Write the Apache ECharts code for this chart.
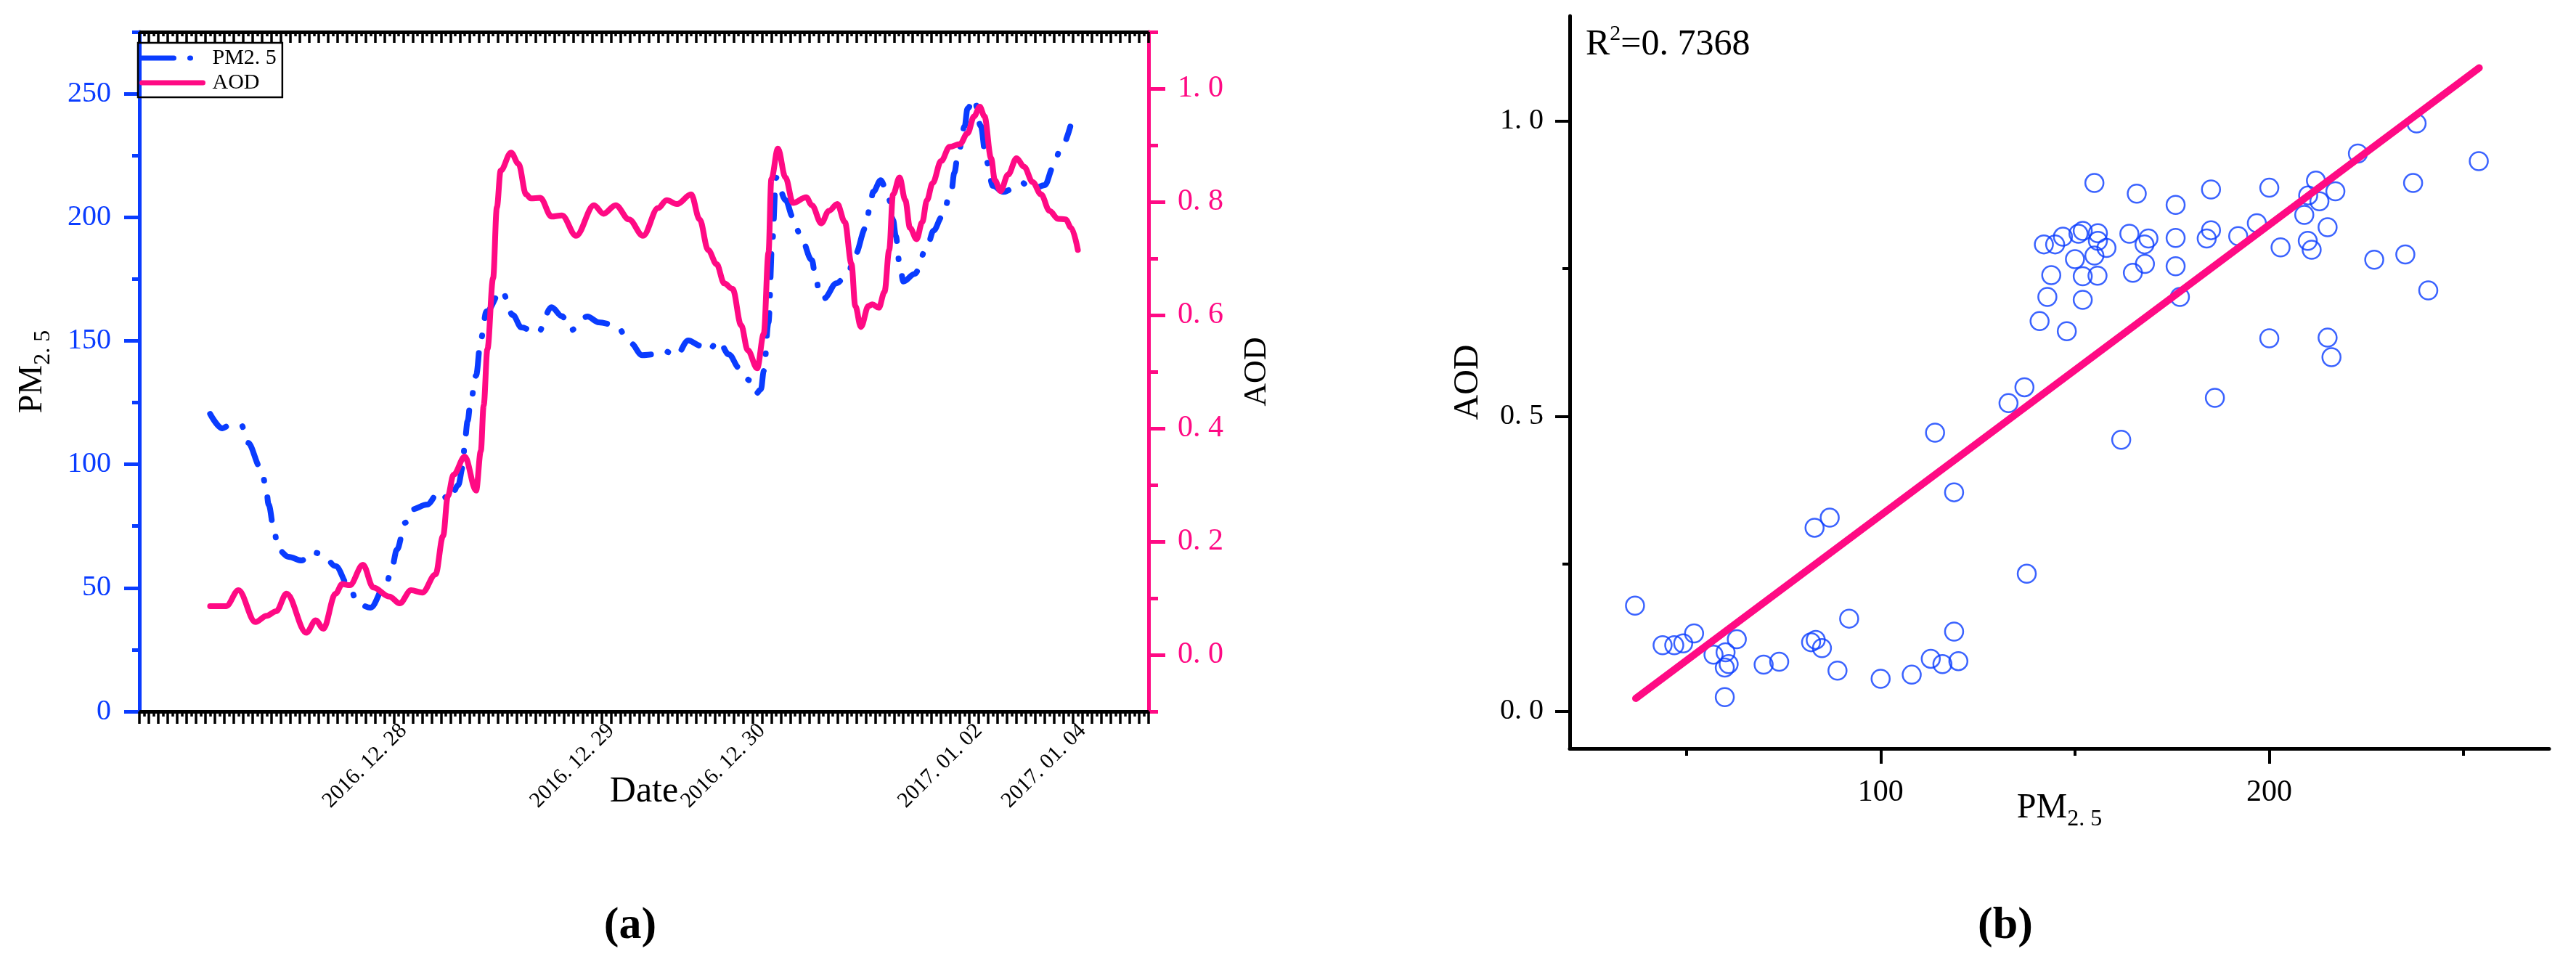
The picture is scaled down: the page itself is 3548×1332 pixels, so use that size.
<!DOCTYPE html>
<html>
<head>
<meta charset="utf-8">
<script src="https://cdn.jsdelivr.net/npm/echarts@6/dist/echarts.min.js"></script>
<style>
html,body{margin:0;padding:0;background:#fff;}
#c{width:3548px;height:1332px;}
</style>
</head>
<body>
<div id="c"></div>
<script>
// ---------- (a) time series: x = hourly sample index ----------
const pmHour = [7.5,8.8,9.4,10.8,11.5,12.9,13.4,13.7,14.3,14.7,15.8,17.2,18.2,19.4,20.8,22.2,23.2,24.5,26.2,26.8,
  27.3,28.2,28.8,30.5,31.8,32.9,33.8,34.3,34.5,34.8,35.1,35.7,36.2,36.8,38.4,39.6,40.5,42.2,43.7,44.8,
  45.7,47.5,48.7,50.5,52.1,53.3,54.5,55.6,56.9,58.2,59.5,60.3,61.4,62.5,63.6,64.7,65.4,65.9,66.2,66.7,
  67.1,67.5,68.5,69.3,70.0,71.3,71.7,72.2,72.6,73.9,75.1,75.9,77.0,77.4,77.8,78.6,79.5,79.9,80.2,80.6,
  81.0,82.2,83.5,84.2,85.1,86.1,86.4,86.8,87.5,87.8,88.5,89.2,89.8,90.5,91.6,93.6,94.5,96.0,96.9,97.6,98.7];
const pmValue = [120.4,114.6,115.5,116,108.7,98.4,91.6,83.7,72.9,65.5,62.6,61.1,64.6,63.7,58.8,50.8,43.5,42,52,58.8,
  65.5,76.4,81.7,83.7,89,85.2,91.6,99,109.6,117.5,124.9,136,150.7,161.9,170.4,160.4,155.4,153,163.6,160,
  154.2,159.8,157.5,156.3,149,144.2,144.5,146,143.9,150.1,148,146,150.1,144.5,139,134,128.7,130.4,137.8,157.5,
  190,216,207,200,193.4,182.7,175.4,167.6,167.2,173.3,177.1,185,195.7,203,210.3,215,207,199,192.4,181.1,
  174,177.1,187.8,194.6,200.2,211,218,225.6,236.8,244,248,237,222.7,212.7,210.3,214,211,213,220.4,227,236.7];

const aodHour = [7.5,9.2,10.5,12.3,13.5,14.5,15.6,17.7,18.7,19.5,20.8,21.5,22.3,23.7,24.8,26.5,27.6,28.8,30.0,31.4,
  32.2,32.7,33.3,34.5,35.7,36.2,36.5,36.9,37.5,37.9,38.3,39.4,40.2,41.0,41.5,42.5,43.7,44.8,46.3,48.2,
  49.2,50.5,51.9,53.4,55.0,55.9,57.0,58.5,59.4,60.3,61.2,62.0,62.9,63.8,64.5,65.5,66.2,66.7,67.0,67.7,
  68.5,69.3,70.7,71.3,72.3,73.1,74.0,74.8,75.5,75.9,76.5,77.3,77.7,78.4,79.0,79.5,79.9,80.6,81.2,81.7,
  82.4,83.0,83.5,84.1,85.0,85.9,87.0,87.8,88.5,89.1,89.6,90.3,90.7,91.3,92.1,93.0,93.8,94.7,95.6,96.5,
  97.4,98.2,98.8,99.5];
const aodValue = [0.086,0.086,0.114,0.058,0.069,0.077,0.108,0.039,0.061,0.046,0.108,0.125,0.123,0.159,0.119,0.103,0.091,0.114,0.110,0.142,
  0.21,0.28,0.318,0.350,0.29,0.36,0.44,0.54,0.665,0.79,0.855,0.887,0.867,0.813,0.806,0.807,0.774,0.776,0.740,0.794,
  0.779,0.794,0.769,0.740,0.789,0.803,0.796,0.813,0.769,0.715,0.690,0.656,0.646,0.582,0.538,0.506,0.567,0.71,0.84,0.894,
  0.843,0.798,0.808,0.794,0.762,0.784,0.796,0.764,0.690,0.616,0.579,0.616,0.619,0.613,0.641,0.715,0.813,0.843,0.803,0.754,
  0.734,0.764,0.803,0.833,0.872,0.897,0.902,0.921,0.951,0.968,0.951,0.877,0.838,0.819,0.848,0.877,0.862,0.835,0.813,0.784,
  0.770,0.769,0.754,0.715];

const dateTickHour = [28, 50, 66, 89, 100];
const dateTickLabel = ['2016. 12. 28', '2016. 12. 29', '2016. 12. 30', '2017. 01. 02', '2017. 01. 04'];
const pmMajorTicks = [0, 50, 100, 150, 200, 250];
const pmMinorTicks = [25, 75, 125, 175, 225, 275];
const aodMajorTicks = [0, 0.2, 0.4, 0.6, 0.8, 1.0];
const aodMinorTicks = [-0.1, 0.1, 0.3, 0.5, 0.7, 0.9, 1.1];

// ---------- (b) scatter ----------
const scatterPM = [36.8,43.9,46.9,49.2,52.0,57.0,60.1,59.9,60.9,63.0,59.9,69.9,73.9,83.0,86.9,82.1,83.3,84.9,91.9,88.9,
  100.0,108.0,112.9,115.9,120.0,118.9,118.9,114.0,132.9,137.6,137.0,140.9,
  155.0,165.9,175.9,185.0,200.0,212.0,210.0,212.9,217.0,222.8,237.9,253.9,237.0,209.0,196.8,215.0,192.0,185.0,
  183.9,175.9,168.9,167.9,164.0,202.9,209.9,210.9,227.0,235.0,240.9,200.0,215.0,216.0,186.0,161.9,177.0,175.9,168.0,164.9,
  155.8,152.0,143.9,142.9,152.0,147.9,142.0,144.9,146.9,150.9,152.0,155.9,155.9,158.1,155.0,150.0];
const scatterAOD = [0.179,0.112,0.112,0.115,0.132,0.096,0.100,0.074,0.080,0.122,0.024,0.079,0.084,0.311,0.328,0.117,0.121,0.107,0.157,0.069,
  0.055,0.062,0.089,0.080,0.085,0.135,0.371,0.472,0.522,0.233,0.549,0.661,
  0.895,0.877,0.858,0.884,0.887,0.899,0.874,0.864,0.881,0.945,0.996,0.932,0.895,0.841,0.827,0.820,0.805,0.815,
  0.801,0.802,0.801,0.791,0.809,0.786,0.797,0.782,0.765,0.774,0.713,0.632,0.633,0.600,0.531,0.460,0.702,0.754,0.758,0.743,
  0.738,0.737,0.739,0.702,0.697,0.644,0.791,0.791,0.804,0.809,0.814,0.810,0.797,0.785,0.772,0.766];
const fitPM = [37, 254];
const fitAOD = [0.022, 1.09];
const r2Value = '0. 7368';
const scXMajor = [100, 200];
const scXMinor = [50, 150, 250];
const scYMajor = [0, 0.5, 1.0];
const scYMinor = [0.25, 0.75];

const BLUE = '#0a3cff';
const PINK = '#ff0a84';
const SERIF = 'Liberation Serif';
const dotFmt = v => Number(v).toFixed(1).replace('.', '. ');

function minorAxis(base) {
  return Object.assign({
    type: 'value', axisLine: {show: false, onZero: false}, axisLabel: {show: false},
    splitLine: {show: false}
  }, base);
}

const chart = echarts.init(document.getElementById('c'), null, {renderer: 'canvas'});
const option = {
  animation: false,
  backgroundColor: '#ffffff',
  grid: [
    {left: 192, top: 44, width: 1390, height: 936},
    {left: 2162, top: 22, width: 1349, height: 1009}
  ],
  legend: {
    data: [
      {name: 'PM2.5', lineStyle: {type: [44, 22, 1, 30]}},
      {name: 'AOD'}
    ],
    orient: 'vertical', left: 190, top: 59,
    itemWidth: 84, itemHeight: 16, itemGap: 4,
    padding: [6, 8, 5, 2],
    borderColor: '#000', borderWidth: 2.5,
    itemStyle: {opacity: 0},
    lineStyle: {width: 7, cap: 'round'},
    formatter: n => n === 'PM2.5' ? 'PM2. 5' : n,
    textStyle: {fontFamily: SERIF, fontSize: 30, color: '#000', padding: [0, 0, 0, 8]}
  },
  xAxis: [
    {
      gridIndex: 0, type: 'value', position: 'bottom', min: 0, max: 107, interval: 1,
      axisLine: {onZero: false, lineStyle: {color: '#000', width: 5}},
      axisTick: {show: true, length: 17, lineStyle: {color: '#000', width: 3.5}},
      minorTick: {show: true, splitNumber: 2, length: 7, lineStyle: {color: '#000', width: 3.5}},
      splitLine: {show: false}, minorSplitLine: {show: false},
      axisLabel: {
        customValues: dateTickHour, rotate: 45, margin: 22,
        fontFamily: SERIF, fontSize: 30, color: '#000',
        formatter: v => { const i = dateTickHour.indexOf(v); return i >= 0 ? dateTickLabel[i] : ''; }
      },
      name: 'Date', nameLocation: 'middle', nameGap: 86, nameMoveOverlap: false,
      nameTextStyle: {fontFamily: SERIF, fontSize: 50, color: '#000'}
    },
    {
      gridIndex: 0, type: 'value', position: 'top', min: 0, max: 107, interval: 1,
      axisLine: {onZero: false, lineStyle: {color: '#000', width: 5}},
      axisTick: {show: true, inside: true, length: 15, lineStyle: {color: '#000', width: 3.5}},
      minorTick: {show: true, splitNumber: 2, length: 6, lineStyle: {color: '#000', width: 3.5}},
      splitLine: {show: false}, minorSplitLine: {show: false},
      axisLabel: {show: false}
    },
    {
      gridIndex: 1, type: 'value', position: 'bottom', min: 20, max: 272,
      axisLine: {onZero: false, lineStyle: {color: '#000', width: 5}},
      axisTick: {show: true, customValues: scXMajor, length: 21, lineStyle: {color: '#000', width: 4}},
      axisLabel: {customValues: scXMajor, margin: 40, fontFamily: SERIF, fontSize: 42, color: '#000'},
      splitLine: {show: false},
      name: '{m|PM}{s|2. 5}', nameLocation: 'middle', nameGap: 50, nameMoveOverlap: false,
      nameTextStyle: {
        color: '#000',
        rich: {
          m: {fontFamily: SERIF, fontSize: 48, lineHeight: 64, color: '#000'},
          s: {fontFamily: SERIF, fontSize: 32, lineHeight: 26, verticalAlign: 'bottom', color: '#000'}
        }
      }
    },
    minorAxis({
      gridIndex: 1, position: 'bottom', min: 20, max: 272,
      axisTick: {show: true, customValues: scXMinor, length: 10, lineStyle: {color: '#000', width: 4}}
    })
  ],
  yAxis: [
    {
      gridIndex: 0, type: 'value', position: 'left', min: 0, max: 275,
      axisLine: {onZero: false, lineStyle: {color: BLUE, width: 5}},
      axisTick: {show: true, customValues: pmMajorTicks, length: 21, lineStyle: {color: BLUE, width: 5}},
      axisLabel: {customValues: pmMajorTicks, margin: 39, fontFamily: SERIF, fontSize: 40, color: BLUE},
      splitLine: {show: false},
      name: '{m|PM}{s|2. 5}', nameLocation: 'middle', nameRotate: 90, nameGap: 116, nameMoveOverlap: false,
      nameTextStyle: {
        color: '#000',
        rich: {
          m: {fontFamily: SERIF, fontSize: 46, lineHeight: 62, color: '#000'},
          s: {fontFamily: SERIF, fontSize: 32, lineHeight: 26, verticalAlign: 'bottom', color: '#000'}
        }
      }
    },
    minorAxis({
      gridIndex: 0, position: 'left', min: 0, max: 275,
      axisTick: {show: true, customValues: pmMinorTicks, length: 10, lineStyle: {color: BLUE, width: 5}}
    }),
    {
      gridIndex: 0, type: 'value', position: 'right', min: -0.1, max: 1.1,
      axisLine: {onZero: false, lineStyle: {color: PINK, width: 5}},
      axisTick: {show: true, customValues: aodMajorTicks, length: 23, lineStyle: {color: PINK, width: 5}},
      axisLabel: {customValues: aodMajorTicks, margin: 40, fontFamily: SERIF, fontSize: 42, color: PINK, formatter: dotFmt},
      splitLine: {show: false},
      name: 'AOD', nameLocation: 'middle', nameRotate: 90, nameGap: 127, nameMoveOverlap: false,
      nameTextStyle: {fontFamily: SERIF, fontSize: 44, color: '#000'}
    },
    minorAxis({
      gridIndex: 0, position: 'right', min: -0.1, max: 1.1,
      axisTick: {show: true, customValues: aodMinorTicks, length: 13, lineStyle: {color: PINK, width: 5}}
    }),
    {
      gridIndex: 1, type: 'value', position: 'left', min: -0.063, max: 1.178,
      axisLine: {onZero: false, lineStyle: {color: '#000', width: 5}},
      axisTick: {show: true, customValues: scYMajor, length: 20, lineStyle: {color: '#000', width: 4}},
      axisLabel: {customValues: scYMajor, margin: 36, fontFamily: SERIF, fontSize: 40, color: '#000', formatter: dotFmt},
      splitLine: {show: false},
      name: 'AOD', nameLocation: 'middle', nameRotate: 90, nameGap: 116, nameMoveOverlap: false,
      nameTextStyle: {fontFamily: SERIF, fontSize: 48, color: '#000'}
    },
    minorAxis({
      gridIndex: 1, position: 'left', min: -0.063, max: 1.178,
      axisTick: {show: true, customValues: scYMinor, length: 10, lineStyle: {color: '#000', width: 4}}
    })
  ],
  series: [
    {
      name: 'PM2.5', type: 'line', xAxisIndex: 0, yAxisIndex: 0,
      data: pmHour.map((h, i) => [h, pmValue[i]]),
      smooth: 0.35, smoothMonotone: 'x', symbol: 'none', showSymbol: false,
      lineStyle: {color: BLUE, width: 8, type: [32, 24, 1, 24], cap: 'round', join: 'round'},
      itemStyle: {color: BLUE}, z: 2
    },
    {
      name: 'AOD', type: 'line', xAxisIndex: 0, yAxisIndex: 2,
      data: aodHour.map((h, i) => [h, aodValue[i]]),
      smooth: 0.35, smoothMonotone: 'x', symbol: 'none', showSymbol: false,
      lineStyle: {color: PINK, width: 8, cap: 'round', join: 'round'},
      itemStyle: {color: PINK}, z: 3
    },
    {
      name: 'scatter', type: 'scatter', xAxisIndex: 2, yAxisIndex: 4,
      data: scatterPM.map((p, i) => [p, scatterAOD[i]]),
      symbol: 'circle', symbolSize: 25,
      itemStyle: {color: 'rgba(255,255,255,0)', borderColor: BLUE, borderWidth: 2.5},
      z: 2
    },
    {
      name: 'fit', type: 'line', xAxisIndex: 2, yAxisIndex: 4,
      data: fitPM.map((p, i) => [p, fitAOD[i]]),
      symbol: 'none', lineStyle: {color: PINK, width: 10, cap: 'round'}, z: 3
    }
  ],
  graphic: [
    {
      type: 'text', left: 2184, top: 32,
      style: {
        text: '{r|R}{s|2}{r|=' + r2Value + '}',
        rich: {
          r: {fontFamily: SERIF, fontSize: 50, lineHeight: 60, fill: '#000', color: '#000'},
          s: {fontFamily: SERIF, fontSize: 30, lineHeight: 30, verticalAlign: 'top', fill: '#000', color: '#000'}
        }
      }
    },
    {
      type: 'text', x: 868, y: 1276,
      style: {text: '(a)', font: 'bold 62px "Liberation Serif"', fill: '#000',
        align: 'center', verticalAlign: 'middle', textAlign: 'center', textVerticalAlign: 'middle'}
    },
    {
      type: 'text', x: 2762, y: 1276,
      style: {text: '(b)', font: 'bold 62px "Liberation Serif"', fill: '#000',
        align: 'center', verticalAlign: 'middle', textAlign: 'center', textVerticalAlign: 'middle'}
    }
  ]
};
chart.setOption(option);
</script>
</body>
</html>
